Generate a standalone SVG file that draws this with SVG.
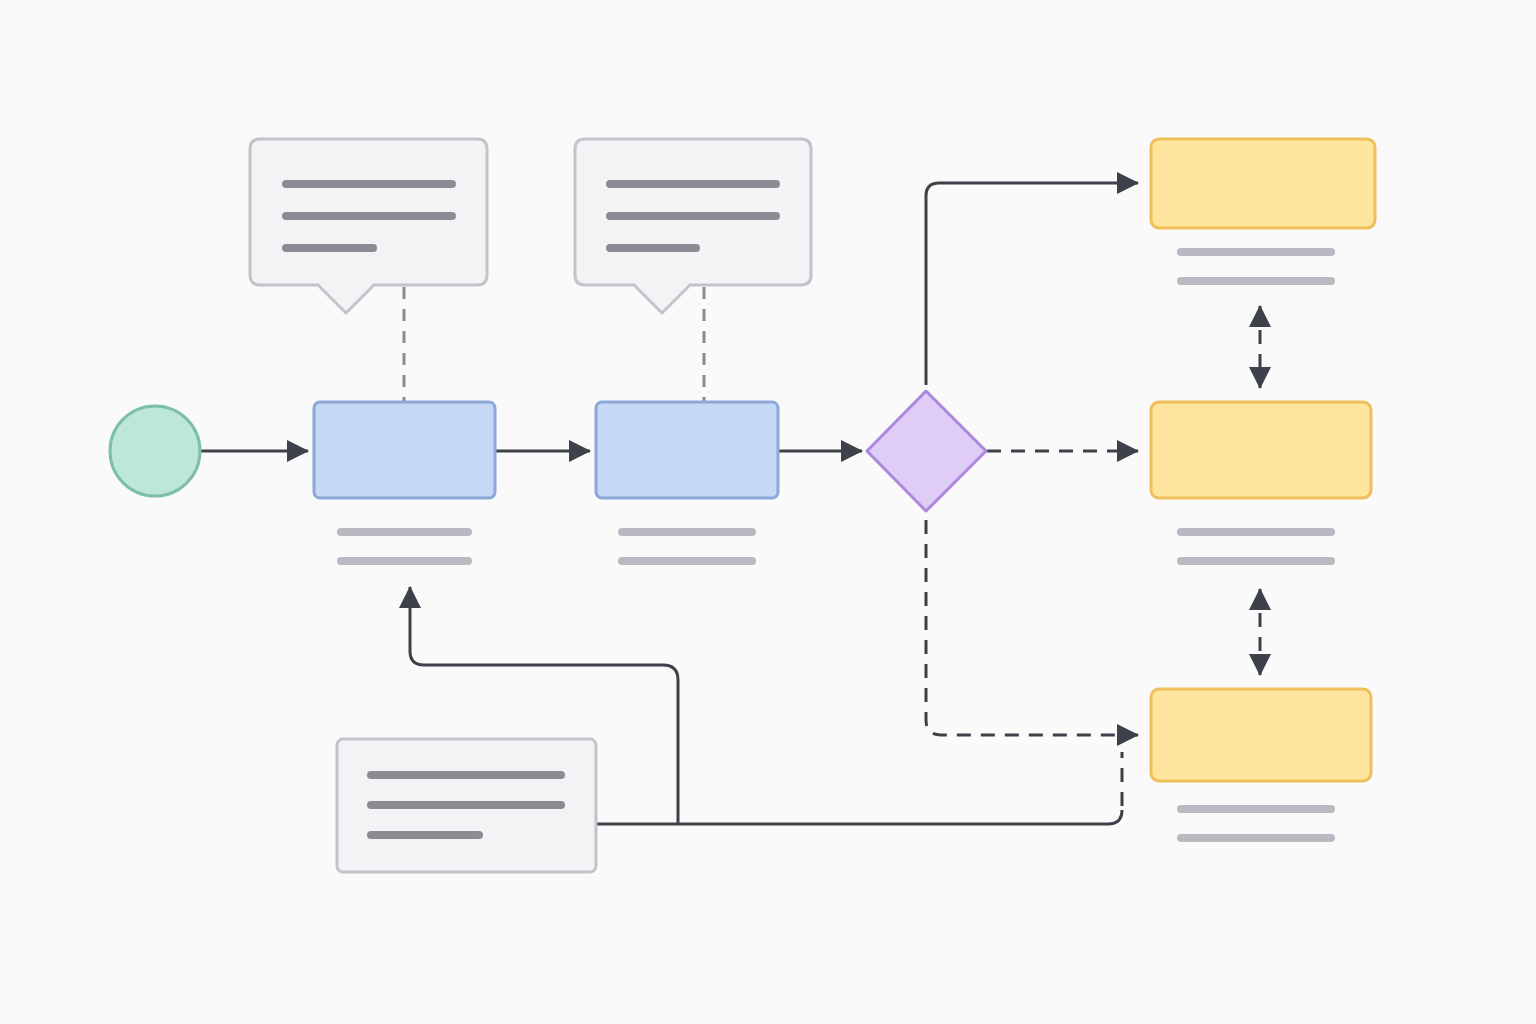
<svg xmlns="http://www.w3.org/2000/svg" width="1536" height="1024" viewBox="0 0 1536 1024">
<style>
.bg{fill:#fafafa}
.note{fill:#f3f3f5;stroke:#c3c3cb;stroke-width:3;stroke-linejoin:round}
.blue{fill:#c5d8f5;stroke:#8ba8d8;stroke-width:3}
.yel{fill:#fde59d;stroke:#eebf5a;stroke-width:3}
.dark{stroke:#8a8b93;stroke-width:8;stroke-linecap:round;fill:none}
.light{stroke:#b9b9c2;stroke-width:8;stroke-linecap:round;fill:none}
.conn{stroke:#3d4149;stroke-width:3;fill:none;stroke-linejoin:round}
.dash{stroke-dasharray:14 10}
.gdash{stroke:#8a8b93;stroke-width:3;fill:none;stroke-dasharray:12 10}
</style>
<defs>
<marker id="ah" markerUnits="userSpaceOnUse" markerWidth="22" markerHeight="22" refX="21" refY="11" orient="auto-start-reverse" viewBox="0 0 22 22">
<path d="M0,0 L22,11 L0,22 z" fill="#3d4149"/>
</marker>
</defs>
<rect class="bg" width="1536" height="1024"/>

<g id="connectors">
<line class="gdash" x1="404" y1="287" x2="404" y2="401"/>
<line class="gdash" x1="704" y1="287" x2="704" y2="401"/>
<line class="conn" x1="201" y1="451" x2="308" y2="451" marker-end="url(#ah)"/>
<line class="conn" x1="496" y1="451" x2="590" y2="451" marker-end="url(#ah)"/>
<line class="conn" x1="779" y1="451" x2="862" y2="451" marker-end="url(#ah)"/>
<path class="conn" d="M926,385 V196 Q926,183 939,183 H1138" marker-end="url(#ah)"/>
<path class="conn dash" d="M987,451 H1138" marker-end="url(#ah)"/>
<path class="conn dash" d="M926,520 V720 Q926,735 941,735 H1138" marker-end="url(#ah)"/>
<path class="conn" d="M597,824 H1108 Q1122,824 1122,810"/>
<path class="conn dash" d="M1122,806 V752"/>
<path class="conn" d="M678,824 V680 Q678,665 663,665 H424 Q410,665 410,651 V587" marker-end="url(#ah)"/>
<path class="conn dash" d="M1260,306 V388" marker-start="url(#ah)" marker-end="url(#ah)"/>
<path class="conn dash" d="M1260,589 V675" marker-start="url(#ah)" marker-end="url(#ah)"/>
</g>

<g id="start"><circle cx="155" cy="451" r="45" fill="#bde8d8" stroke="#7fbea8" stroke-width="3"/></g>

<g id="callout1">
<path class="note" d="M260,139 H477 Q487,139 487,149 V275 Q487,285 477,285 H374 L346,313 L318,285 H260 Q250,285 250,275 V149 Q250,139 260,139 Z"/>
<line class="dark" x1="286" y1="184" x2="452" y2="184"/>
<line class="dark" x1="286" y1="216" x2="452" y2="216"/>
<line class="dark" x1="286" y1="248" x2="373" y2="248"/>
</g>
<g id="callout2">
<path class="note" d="M585,139 H801 Q811,139 811,149 V275 Q811,285 801,285 H690 L662,313 L634,285 H585 Q575,285 575,275 V149 Q575,139 585,139 Z"/>
<line class="dark" x1="610" y1="184" x2="776" y2="184"/>
<line class="dark" x1="610" y1="216" x2="776" y2="216"/>
<line class="dark" x1="610" y1="248" x2="696" y2="248"/>
</g>

<g id="box1">
<rect class="blue" x="314" y="402" width="181" height="96" rx="6"/>
<line class="light" x1="341" y1="532" x2="468" y2="532"/>
<line class="light" x1="341" y1="561" x2="468" y2="561"/>
</g>
<g id="box2">
<rect class="blue" x="596" y="402" width="182" height="96" rx="6"/>
<line class="light" x1="622" y1="532" x2="752" y2="532"/>
<line class="light" x1="622" y1="561" x2="752" y2="561"/>
</g>

<g id="decision"><polygon points="867,451 926,391 986,451 926,511" fill="#e0cdf7" stroke="#ad86e0" stroke-width="3" stroke-linejoin="round"/></g>

<g id="out1">
<rect class="yel" x="1151" y="139" width="224" height="89" rx="8"/>
<line class="light" x1="1181" y1="252" x2="1331" y2="252"/>
<line class="light" x1="1181" y1="281" x2="1331" y2="281"/>
</g>
<g id="out2">
<rect class="yel" x="1151" y="402" width="220" height="96" rx="8"/>
<line class="light" x1="1181" y1="532" x2="1331" y2="532"/>
<line class="light" x1="1181" y1="561" x2="1331" y2="561"/>
</g>
<g id="out3">
<rect class="yel" x="1151" y="689" width="220" height="92" rx="8"/>
<line class="light" x1="1181" y1="809" x2="1331" y2="809"/>
<line class="light" x1="1181" y1="838" x2="1331" y2="838"/>
</g>

<g id="source">
<rect class="note" x="337" y="739" width="259" height="133" rx="6"/>
<line class="dark" x1="371" y1="775" x2="561" y2="775"/>
<line class="dark" x1="371" y1="805" x2="561" y2="805"/>
<line class="dark" x1="371" y1="835" x2="479" y2="835"/>
</g>
</svg>
